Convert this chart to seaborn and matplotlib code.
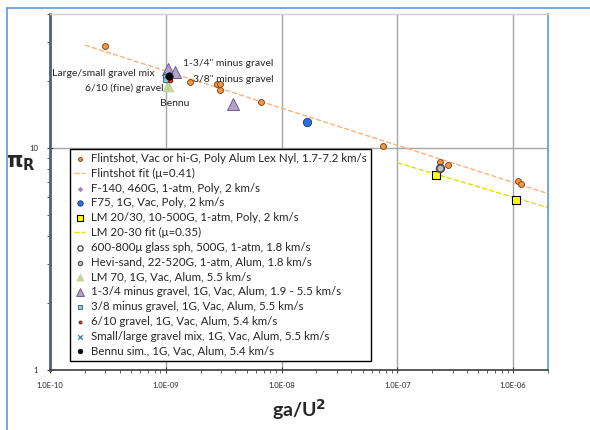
import numpy as np
import matplotlib
matplotlib.use("Agg")
import matplotlib.pyplot as plt
import matplotlib.ticker as mticker
from matplotlib.lines import Line2D
import seaborn as sns

# data (ga/U^2 vs pi_R)
flint_x = [2.98e-10, 1.61e-9, 2.75e-9, 2.92e-9, 2.92e-9, 6.59e-9, 7.57e-8,
           2.35e-7, 2.75e-7, 1.10e-6, 1.17e-6]
flint_y = [28.7, 19.8, 19.4, 19.4, 18.2, 16.1, 10.2, 8.65, 8.4, 7.11, 6.9]
flint_fit_x = [2.0e-10, 2.0e-6]
flint_fit_y = [29.0, 6.22]

f140_x = [1.0e-9]
f140_y = [21.0]
f75_x = [1.67e-8]
f75_y = [13.1]

lm2030_x = [2.17e-7, 1.06e-6]
lm2030_y = [7.57, 5.85]
lm_fit_x = [1.0e-7, 2.0e-6]
lm_fit_y = [8.57, 5.38]

glass_x = [2.35e-7]
glass_y = [8.15]
hevi_x = [2.35e-7]
hevi_y = [8.15]

lm70_x = [1.04e-9]
lm70_y = [19.0]
grav134_x = [1.04e-9, 1.20e-9, 3.78e-9]
grav134_y = [22.6, 21.9, 15.8]
grav38_x = [1.02e-9]
grav38_y = [20.6]
grav610_x = [1.08e-9]
grav610_y = [20.2]
mix_x = [1.02e-9]
mix_y = [21.3]
bennu_x = [1.06e-9]
bennu_y = [21.0]

x_ticks = [1e-10, 1e-9, 1e-8, 1e-7, 1e-6]
x_ticklabels = ["1.0E-10", "1.0E-09", "1.0E-08", "1.0E-07", "1.0E-06"]

sns.set_style("white")
plt.rcParams["font.family"] = ["Lato", "DejaVu Sans"]

fig = plt.figure(figsize=(5.9, 4.3), dpi=100)
ax = fig.add_axes([50 / 590, 60 / 430, 498 / 590, 356 / 430])

orange = "#F79646"
dark = "#7F4A1A"

sns.scatterplot(x=flint_x, y=flint_y, ax=ax, marker="o", s=18, color=orange,
                edgecolor=dark, linewidth=0.7, zorder=3,
                label="Flintshot, Vac or hi-G, Poly Alum Lex Nyl, 1.7-7.2 km/s")
sns.lineplot(x=flint_fit_x, y=flint_fit_y, ax=ax, color="#FAB27C", linestyle="--",
             linewidth=1.0, zorder=2, label="Flintshot fit (\u03bc=0.41)")
sns.scatterplot(x=f140_x, y=f140_y, ax=ax, marker="D", s=14, color="#9B7FC4",
                edgecolor="#9B7FC4", zorder=3, label="F-140, 460G, 1-atm, Poly, 2 km/s")
sns.scatterplot(x=f75_x, y=f75_y, ax=ax, marker="o", s=35, color="#2F6FE0",
                edgecolor="#1F3F80", linewidth=0.7, zorder=3,
                label="F75, 1G, Vac, Poly, 2 km/s")
sns.scatterplot(x=lm2030_x, y=lm2030_y, ax=ax, marker="s", s=38, color="#FFFF00",
                edgecolor="black", linewidth=0.8, zorder=3,
                label="LM 20/30, 10-500G, 1-atm, Poly, 2 km/s")
sns.lineplot(x=lm_fit_x, y=lm_fit_y, ax=ax, color="#E0E000", linestyle="--",
             linewidth=1.0, zorder=2, label="LM 20-30 fit (\u03bc=0.35)")
sns.scatterplot(x=glass_x, y=glass_y, ax=ax, marker="o", s=34, color="white",
                edgecolor="#404040", linewidth=0.9, zorder=3,
                label="600-800\u03bc glass sph, 500G, 1-atm, 1.8 km/s")
sns.scatterplot(x=hevi_x, y=hevi_y, ax=ax, marker="o", s=24, color="#BDBDBD",
                edgecolor="#505050", linewidth=0.8, zorder=4,
                label="Hevi-sand, 22-520G, 1-atm, Alum, 1.8 km/s")
sns.scatterplot(x=lm70_x, y=lm70_y, ax=ax, marker="^", s=60, color="#C3D69B",
                edgecolor="#C3D69B", zorder=3, label="LM 70, 1G, Vac, Alum, 5.5 km/s")
sns.scatterplot(x=grav134_x, y=grav134_y, ax=ax, marker="^", s=75, color="#B3A2C7",
                edgecolor="#5F4B8B", linewidth=0.6, zorder=3,
                label="1-3/4 minus gravel, 1G, Vac, Alum, 1.9 - 5.5 km/s")
sns.scatterplot(x=grav38_x, y=grav38_y, ax=ax, marker="s", s=30, color="#92CDDC",
                edgecolor="#31596B", linewidth=0.6, zorder=4,
                label="3/8 minus gravel, 1G, Vac, Alum, 5.5 km/s")
sns.scatterplot(x=grav610_x, y=grav610_y, ax=ax, marker="o", s=12, color="#E03020",
                edgecolor="#5A1A10", linewidth=0.5, zorder=5,
                label="6/10 gravel, 1G, Vac, Alum, 5.4 km/s")
sns.scatterplot(x=mix_x, y=mix_y, ax=ax, marker="x", s=25, color="#4F81BD",
                linewidth=1.0, zorder=5,
                label="Small/large gravel mix, 1G, Vac, Alum, 5.5 km/s")
sns.scatterplot(x=bennu_x, y=bennu_y, ax=ax, marker="o", s=28, color="black",
                edgecolor="black", zorder=6, label="Bennu sim., 1G, Vac, Alum, 5.4 km/s")

ax.set_xscale("log")
ax.set_yscale("log")
ax.set_xlim(1e-10, 2e-6)
ax.set_ylim(1, 40)

ax.xaxis.set_major_locator(mticker.FixedLocator(x_ticks))
ax.set_xticklabels(x_ticklabels, fontsize=5.5)
ax.xaxis.set_minor_locator(mticker.LogLocator(base=10, subs=np.arange(2, 10)))
ax.xaxis.set_minor_formatter(mticker.NullFormatter())
ax.yaxis.set_major_locator(mticker.FixedLocator([1, 10]))
ax.set_yticklabels(["1", "10"], fontsize=5.5)
ax.yaxis.set_minor_locator(mticker.LogLocator(base=10, subs=np.arange(2, 10)))
ax.yaxis.set_minor_formatter(mticker.NullFormatter())
ax.tick_params(axis="both", which="major", direction="inout", length=5, width=0.8,
               color="#404040", bottom=True, left=True, pad=6)
ax.tick_params(axis="both", which="minor", direction="out", length=2, width=0.6,
               color="#404040", bottom=True, left=True)

ax.grid(True, which="major", color="#A6A6A6", linewidth=1.0)
ax.grid(False, which="minor")
ax.set_axisbelow(True)

ax.spines["left"].set_color("#4A6282")
ax.spines["left"].set_linewidth(2.0)
ax.spines["bottom"].set_color("#404040")
ax.spines["bottom"].set_linewidth(1.2)
ax.spines["right"].set_color("#5B9BD5")
ax.spines["right"].set_linewidth(1.2)
ax.spines["top"].set_color("#D0D0D0")
ax.spines["top"].set_linewidth(1.0)

ax.set_xlabel(r"ga/U$^{\mathbf{2}}$", fontsize=14, fontweight="bold")
ax.xaxis.set_label_coords(0.5, -0.075)
ax.set_ylabel(r"$\mathbf{\pi_R}$", fontsize=15, rotation=0, ha="center", va="center")
ax.yaxis.set_label_coords(-0.058, 0.582)

# point annotations
ax.text(1.40e-9, 24.0, "1-3/4\" minus gravel", fontsize=7.5, ha="left", va="center")
ax.text(1.71e-9, 20.2, "3/8\" minus gravel", fontsize=7.5, ha="left", va="center")
ax.text(8.0e-10, 21.7, "Large/small gravel mix", fontsize=7.5, ha="right", va="center")
ax.text(9.6e-10, 18.6, "6/10 (fine) gravel", fontsize=7.5, ha="right", va="center")
ax.text(1.19e-9, 15.9, "Bennu", fontsize=7.5, ha="center", va="center")

handles, labels = ax.get_legend_handles_labels()
leg = ax.legend(handles, labels, loc="upper left", bbox_to_anchor=(0.04, 0.621),
                borderaxespad=0, fontsize=8.3, frameon=True, fancybox=False,
                edgecolor="black", handlelength=1.0, handletextpad=0.5,
                labelspacing=0.33, markerscale=0.65, borderpad=0.35)
leg.get_frame().set_linewidth(1.0)
leg.get_frame().set_alpha(1)
leg.set_zorder(10)

# outer chart border (left and top edges visible)
fig.add_artist(Line2D([7 / 590, 7 / 590], [0, 1 - 8 / 430], color="#5B9BD5", linewidth=1.2))
fig.add_artist(Line2D([7 / 590, 1], [1 - 8 / 430, 1 - 8 / 430], color="#5B9BD5", linewidth=1.2))

fig.savefig("out.png", dpi=100)
